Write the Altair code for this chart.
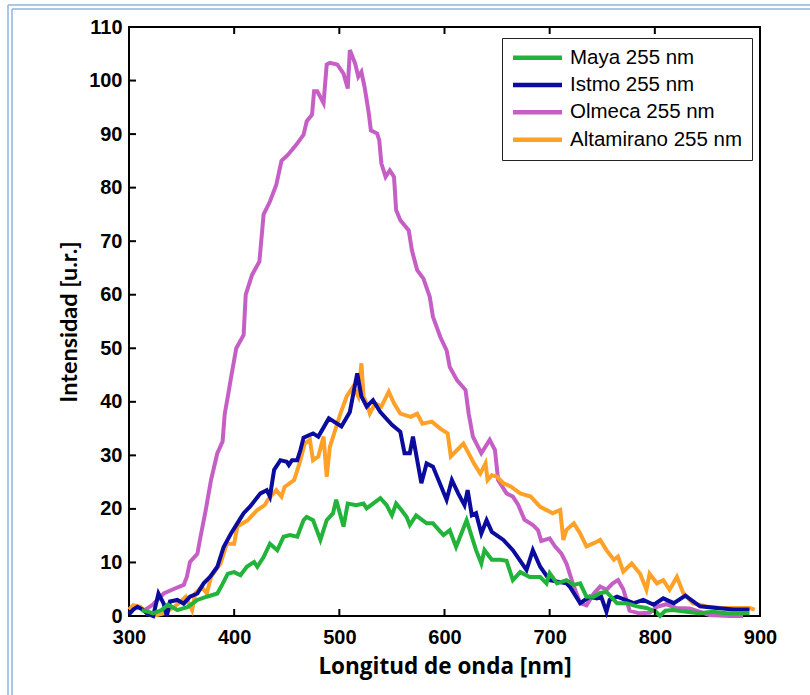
import altair as alt
import pandas as pd

series_names = ["Maya 255 nm", "Istmo 255 nm", "Olmeca 255 nm", "Altamirano 255 nm"]
series_colors = ["#22B33A", "#0B0B9E", "#C55FC5", "#FFA126"]

maya_nm = [312, 318, 323, 331, 337, 346, 356, 365, 374, 384,
           389, 394, 400, 406, 412, 419, 422, 428, 434, 441,
           447, 453, 460, 466, 469, 475, 482, 488, 494, 497,
           504, 508, 516, 523, 526, 532, 539, 545, 550, 554,
           559, 564, 567, 573, 583, 589, 599, 605, 611, 621,
           630, 635, 638, 645, 653, 659, 665, 672, 681, 691,
           697, 700, 707, 716, 723, 729, 735, 742, 748, 754,
           764, 773, 783, 792, 801, 805, 810, 817, 830, 842,
           855, 868, 881, 890]
maya_val = [1.1, 0.8, 0.5, 1.1, 2.1, 1.1, 1.7, 3.0, 3.6, 4.2,
            6.0, 7.9, 8.2, 7.6, 9.2, 10.1, 9.2, 11.0, 13.5, 12.3,
            14.8, 15.1, 14.8, 17.9, 18.5, 17.9, 14.2, 17.9, 19.2, 21.7,
            16.7, 21.0, 20.7, 21.0, 20.1, 21.0, 22.0, 20.7, 18.8, 21.0,
            19.8, 18.5, 17.0, 18.8, 17.3, 17.3, 15.1, 16.0, 12.9, 17.9,
            12.3, 9.8, 12.3, 10.5, 10.5, 10.3, 6.7, 8.2, 7.3, 7.3,
            6.1, 8.0, 6.1, 6.7, 5.8, 6.1, 3.6, 3.6, 4.3, 4.5,
            2.4, 2.4, 1.8, 1.5, 0.8, 0.0, 1.0, 1.1, 0.8, 0.5,
            0.8, 0.5, 0.5, 0.5]

istmo_nm = [300, 304, 308, 313, 317, 323, 328, 333, 336, 339,
            346, 352, 358, 365, 371, 377, 384, 390, 397, 403,
            409, 415, 425, 431, 434, 438, 444, 450, 452, 455,
            460, 463, 466, 475, 480, 490, 502, 510, 517, 521,
            526, 532, 539, 550, 558, 562, 567, 570, 578, 583,
            589, 602, 607, 613, 619, 622, 626, 630, 635, 640,
            645, 656, 665, 678, 684, 691, 700, 716, 719, 729,
            738, 745, 749, 754, 757, 764, 780, 789, 799, 808,
            818, 829, 843, 859, 875, 890]
istmo_val = [0.3, 1.2, 1.7, 1.2, 0.5, 0.0, 4.2, 2.3, 0.0, 2.7,
             3.0, 2.3, 3.6, 4.2, 6.1, 7.3, 9.2, 12.9, 15.4, 17.3,
             19.2, 20.4, 22.9, 23.5, 22.3, 27.3, 29.1, 28.8, 28.2, 29.1,
             29.1, 31.0, 33.3, 34.1, 33.5, 36.9, 35.4, 38.1, 45.3, 41.0,
             39.1, 40.3, 38.1, 35.7, 34.4, 30.4, 30.4, 33.5, 24.8, 28.5,
             27.9, 21.7, 25.4, 22.9, 20.7, 23.5, 18.8, 19.2, 15.4, 17.9,
             15.7, 14.2, 12.3, 8.6, 12.3, 9.2, 6.7, 6.1, 5.5, 2.4,
             3.6, 3.3, 3.6, 0.8, 3.0, 3.6, 2.4, 3.0, 2.1, 3.3,
             2.4, 3.8, 1.8, 1.5, 1.2, 1.2]

olmeca_nm = [314, 322, 333, 342, 352, 355, 358, 365, 368, 373,
             378, 384, 389, 391, 394, 397, 402, 409, 411, 417,
             424, 428, 434, 440, 445, 451, 459, 466, 469, 474,
             476, 479, 485, 488, 491, 498, 504, 508, 510, 515,
             518, 521, 524, 528, 530, 536, 538, 540, 544, 548,
             552, 554, 558, 566, 569, 574, 580, 586, 589, 596,
             602, 605, 612, 620, 623, 627, 635, 643, 648, 651,
             659, 665, 670, 676, 684, 689, 692, 700, 705, 711,
             716, 722, 729, 735, 742, 748, 754, 760, 765, 770,
             776, 785, 795, 802, 811, 820, 833, 852, 871, 884]
olmeca_val = [1.0, 2.0, 4.2, 5.0, 5.8, 7.3, 10.1, 11.6, 14.8, 19.8,
              25.4, 30.4, 32.6, 37.7, 41.0, 44.5, 50.0, 52.5, 60.0, 63.7,
              66.2, 75.0, 77.4, 80.5, 85.0, 86.1, 88.0, 89.9, 92.4, 93.6,
              98.0, 98.0, 95.8, 103.0, 103.3, 103.0, 101.3, 98.5, 105.7, 103.2,
              100.7, 101.6, 98.8, 93.9, 90.7, 90.1, 88.8, 84.5, 82.0, 83.2,
              82.0, 75.8, 73.9, 72.0, 68.3, 64.6, 63.0, 59.6, 55.9, 52.1,
              49.6, 46.5, 44.0, 42.2, 37.8, 33.5, 30.4, 32.9, 31.0, 25.4,
              22.9, 22.3, 20.8, 18.0, 17.0, 16.0, 14.0, 14.5, 13.0, 11.7,
              9.8, 6.1, 2.4, 2.0, 4.2, 5.5, 4.9, 6.1, 6.7, 5.0,
              1.0, 0.5, 0.6, 1.7, 2.2, 1.5, 1.4, 0.2, 0.0, 0.0]

altamirano_nm = [300, 304, 311, 317, 323, 333, 343, 354, 360, 363,
                 369, 374, 378, 387, 393, 400, 403, 413, 422, 429,
                 432, 440, 445, 448, 457, 460, 463, 467, 472, 475,
                 480, 485, 488, 491, 501, 507, 513, 518, 521, 523,
                 526, 529, 534, 540, 547, 552, 558, 568, 574, 579,
                 588, 596, 603, 606, 612, 618, 628, 634, 639, 641,
                 645, 650, 656, 663, 672, 682, 691, 703, 710, 713,
                 716, 723, 729, 735, 742, 748, 754, 761, 765, 770,
                 778, 786, 792, 795, 802, 808, 814, 821, 827, 836,
                 849, 862, 874, 890, 895]
altamirano_val = [1.2, 2.0, 1.7, 0.5, 0.0, 0.5, 1.7, 3.6, 1.1, 4.2,
                  5.4, 4.2, 7.3, 9.8, 13.5, 13.5, 16.7, 17.9, 19.8, 20.7,
                  21.7, 23.5, 22.3, 24.1, 25.4, 27.2, 29.1, 32.2, 32.9, 29.1,
                  29.8, 33.5, 26.0, 31.6, 37.8, 41.0, 42.8, 41.0, 47.2, 41.0,
                  39.7, 37.8, 39.7, 39.1, 41.9, 39.7, 37.8, 37.2, 37.8, 35.9,
                  36.3, 35.0, 34.1, 29.8, 31.0, 32.2, 28.5, 26.6, 28.5, 25.4,
                  26.3, 26.0, 24.8, 24.2, 22.9, 22.3, 20.4, 19.2, 19.8, 14.2,
                  16.1, 17.3, 15.4, 13.0, 13.6, 14.2, 12.3, 10.5, 11.1, 8.3,
                  9.8, 7.9, 4.9, 7.9, 6.1, 6.7, 4.9, 7.3, 4.3, 2.4,
                  1.8, 1.5, 1.5, 1.5, 1.2]

x_ticks = [300, 400, 500, 600, 700, 800, 900]
y_ticks = [0, 10, 20, 30, 40, 50, 60, 70, 80, 90, 100, 110]
x_inner_ticks = [400, 500, 600, 700, 800]
y_inner_ticks = [10, 20, 30, 40, 50, 60, 70, 80, 90, 100]

# drawing order: bottom -> top
draw = [
    ("Olmeca 255 nm", olmeca_nm, olmeca_val),
    ("Altamirano 255 nm", altamirano_nm, altamirano_val),
    ("Istmo 255 nm", istmo_nm, istmo_val),
    ("Maya 255 nm", maya_nm, maya_val),
]
rows = []
for name, nms, vals in draw:
    for i, (a, b) in enumerate(zip(nms, vals)):
        rows.append({"serie": name, "nm": a, "val": b, "ord": i})
df = pd.DataFrame(rows)

W, H = 631, 589
PAD_L, PAD_T, PAD_R, PAD_B = 129, 27, 50, 79

XT = "Longitud de onda [nm]"
YT = "Intensidad [u.r.]"
xscale = alt.Scale(domain=[300, 900], nice=False, zero=False)
yscale = alt.Scale(domain=[0, 110], nice=False, zero=False)
xaxis = alt.Axis(values=x_ticks, format="d", title=XT, titlePadding=8,
                 titleFont="Open Sans", titleFontSize=22.5)
yaxis = alt.Axis(values=y_ticks, format="d", title=YT, titlePadding=7,
                 titleFont="Lato", titleFontSize=23.5)

lines = alt.Chart(df).mark_line(strokeWidth=4, clip=False).encode(
    x=alt.X("nm:Q", scale=xscale, axis=xaxis, title=XT),
    y=alt.Y("val:Q", scale=yscale, axis=yaxis, title=YT),
    color=alt.Color("serie:N",
                    scale=alt.Scale(domain=series_names, range=series_colors),
                    legend=alt.Legend(title=None, orient="none", legendX=373, legendY=11,
                                      symbolType="M-1.75,0H8.05", symbolStrokeWidth=4.5,
                                      symbolSize=100, labelFontSize=20.5,
                                      labelFont="Liberation Sans", labelColor="black",
                                      strokeColor="#222222", fillColor="white",
                                      padding=9.5, rowPadding=6.3, labelOffset=38,
                                      labelLimit=400)),
    detail="serie:N",
    order="ord:Q",
)

xt = pd.DataFrame({"t": x_inner_ticks})
yt = pd.DataFrame({"t": y_inner_ticks})

bottom_ticks = alt.Chart(xt).mark_rule(color="black", strokeWidth=2).encode(
    x=alt.X("t:Q", scale=xscale, axis=xaxis, title=XT), y=alt.value(H), y2=alt.value(H - 7))
top_ticks = alt.Chart(xt).mark_rule(color="black", strokeWidth=2).encode(
    x=alt.X("t:Q", scale=xscale, axis=xaxis, title=XT), y=alt.value(0), y2=alt.value(7))
left_ticks = alt.Chart(yt).mark_rule(color="black", strokeWidth=2).encode(
    y=alt.Y("t:Q", scale=yscale, axis=yaxis, title=YT), x=alt.value(0), x2=alt.value(7))

# decorative double frame of the original picture (top and left edges)
deco = pd.DataFrame({"k": [0]})
frame_col = "#8DB4E2"
b1 = alt.Chart(deco).mark_rule(color=frame_col, strokeWidth=1.5).encode(
    x=alt.value(8 - PAD_L), x2=alt.value(W + PAD_R), y=alt.value(5 - PAD_T))
b2 = alt.Chart(deco).mark_rule(color=frame_col, strokeWidth=1.5).encode(
    x=alt.value(12 - PAD_L), x2=alt.value(W + PAD_R), y=alt.value(9 - PAD_T))
b3 = alt.Chart(deco).mark_rule(color=frame_col, strokeWidth=1.5).encode(
    y=alt.value(5 - PAD_T), y2=alt.value(H + PAD_B), x=alt.value(8 - PAD_L))
b4 = alt.Chart(deco).mark_rule(color=frame_col, strokeWidth=1.5).encode(
    y=alt.value(9 - PAD_T), y2=alt.value(H + PAD_B), x=alt.value(12 - PAD_L))

chart = alt.layer(lines, bottom_ticks, top_ticks, left_ticks, b1, b2, b3, b4).properties(
    width=W, height=H,
    autosize=alt.AutoSizeParams(type="none"),
    padding={"left": PAD_L, "top": PAD_T, "right": PAD_R, "bottom": PAD_B},
    background="white",
).configure_view(
    stroke="black", strokeWidth=2
).configure_axis(
    grid=False, domain=False, ticks=False,
    labelFont="Liberation Sans", labelFontSize=20, labelFontWeight="bold",
    labelColor="black", labelFlush=False,
    titleFontWeight="bold", titleColor="black",
).configure_axisX(labelPadding=11).configure_axisY(labelPadding=7)

chart.save("out.html", embed_options={"renderer": "svg", "actions": False})
